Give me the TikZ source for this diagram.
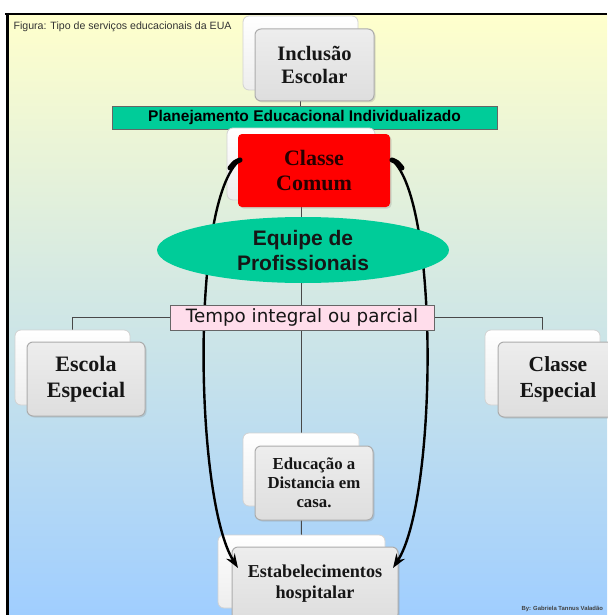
\documentclass[tikz,border=0pt]{standalone}
\usepackage{fontspec}
\setmainfont{Liberation Serif}
\newfontfamily\arialf{Liberation Sans}
\newfontfamily\tahomaf{DejaVu Sans}
\usetikzlibrary{calc,arrows.meta,shadows,shapes.geometric}
\pgfdeclarelayer{backdrop}
\pgfdeclarelayer{links}
\pgfsetlayers{backdrop,links,main}

\definecolor{skytop}{RGB}{255,255,204}
\definecolor{skybot}{RGB}{160,206,255}
\definecolor{mint}{RGB}{0,204,153}
\definecolor{blush}{RGB}{255,221,235}
\definecolor{linkgray}{RGB}{72,72,72}
\definecolor{inkdark}{RGB}{22,22,22}

\tikzset{
  backcard/.style={draw=gray!35, line width=0.8pt, rounded corners=6pt,
    top color=white, bottom color=gray!14, inner sep=0pt, outer sep=0pt},
  frontcard/.style={draw=gray!65, line width=1pt, rounded corners=6pt,
    top color=gray!14, bottom color=gray!26, inner sep=0pt, outer sep=0pt,
    align=center, text=inkdark,
    drop shadow={opacity=0.25, shadow xshift=1.5pt, shadow yshift=-1.5pt}},
  redcard/.style={fill=red, rounded corners=4pt, inner sep=0pt, outer sep=0pt,
    align=center, text=black!85!red,
    drop shadow={opacity=0.25, shadow xshift=1.5pt, shadow yshift=-1.5pt}},
  mintbar/.style={draw=black!60, line width=0.9pt, fill=mint, inner sep=0pt,
    outer sep=0pt, font=\arialf\bfseries\fontsize{15.5}{18}\selectfont},
  pinkbar/.style={draw=black!60, line width=0.9pt, fill=blush, inner sep=0pt,
    outer sep=0pt, text=inkdark, font=\tahomaf\fontsize{18.3}{20}\selectfont},
  link/.style={draw=linkgray, line width=1pt},
  bend arrow/.style={draw=black, line width=2.4pt,
    -{Stealth[length=14pt,width=10pt]}},
  arrow root/.style={draw=black, line width=5pt, line cap=round},
}

\begin{document}
\begin{tikzpicture}[x=1pt,y=-1pt]
  \useasboundingbox (0,0) rectangle (607,615);

  % page backdrop with its frame
  \begin{pgfonlayer}{backdrop}
    \fill[white] (0,0) rectangle (607,615);
    \shade[top color=skytop, bottom color=skybot] (8,14) rectangle (607,615);
    \draw[black, line width=2.6pt] (5,14) -- (607,14);
    \draw[black, line width=2.6pt] (7.5,13) -- (7.5,615);
  \end{pgfonlayer}

  \node[anchor=base west, font=\arialf\fontsize{10.6}{12}\selectfont,
        text=black!80] (caption) at (10,30)
        {Figura: Tipo de serviços educacionais da EUA};

  % Inclusão Escolar
  \node[backcard, minimum width=115pt, minimum height=74pt] (incb) at (300.5,53) {};
  \node[frontcard, minimum width=119pt, minimum height=72pt,
        font=\bfseries\fontsize{20.5}{23}\selectfont] (incf) at (314.5,65)
        {Inclusão\\Escolar};

  % Planejamento bar
  \node[mintbar, minimum width=385pt, minimum height=23pt] (plan) at (304.5,117.5)
        {Planejamento Educacional Individualizado};

  % Classe Comum
  \node[backcard, minimum width=148pt, minimum height=72pt] (redb) at (301,164) {};
  \node[redcard, minimum width=152pt, minimum height=73pt,
        font=\bfseries\fontsize{22}{25}\selectfont] (redf) at (314,170.5)
        {Classe\\Comum};

  % Escola Especial
  \node[backcard, minimum width=115pt, minimum height=75pt] (escb) at (72.5,367.5) {};
  \node[frontcard, minimum width=118pt, minimum height=74pt,
        font=\bfseries\fontsize{22}{26}\selectfont] (escf) at (86,379)
        {Escola\\Especial};

  % Classe Especial
  \node[backcard, minimum width=115pt, minimum height=75pt] (ceb) at (542.5,367.5) {};
  \node[frontcard, minimum width=120pt, minimum height=75pt,
        font=\bfseries\fontsize{21.5}{26}\selectfont] (cef) at (558,379.5)
        {Classe\\Especial};

  % Educação a Distancia em casa
  \node[backcard, minimum width=116pt, minimum height=73pt] (edub) at (301,469.5) {};
  \node[frontcard, minimum width=118pt, minimum height=74pt,
        font=\bfseries\fontsize{16.8}{19}\selectfont] (eduf) at (314,483)
        {Educação a\\Distancia em\\casa.};

  % Estabelecimentos hospitalar
  \node[backcard, minimum width=167pt, minimum height=73pt] (estb) at (301.5,571.5) {};
  \node[frontcard, minimum width=166pt, minimum height=73pt,
        font=\bfseries\fontsize{18.2}{21}\selectfont] (estf) at (315,583.5)
        {Estabelecimentos\\hospitalar};

  % curved arrows from Classe Comum to Estabelecimentos
  \coordinate (lstart) at ($(redf.north west)+(2,26)$);
  \coordinate (lend)   at ($(estf.north west)+(6,21)$);
  \coordinate (rstart) at ($(redf.north east)+(2,26)$);
  \coordinate (rend)   at ($(estf.north east)+(-5,21)$);
  \draw[bend arrow] (lstart) .. controls ($(lstart)+(-50,40)$) and ($(lend)+(-43,-68)$) .. (lend);
  \draw[bend arrow] (rstart) .. controls ($(rstart)+(48,41)$) and ($(rend)+(44,-68)$) .. (rend);
  \draw[arrow root] (lstart) .. controls ($(lstart)+(-5,2)$) .. ($(lstart)+(-10,8)$);
  \draw[arrow root] (rstart) .. controls ($(rstart)+(5,2)$) .. ($(rstart)+(10,8)$);

  % Equipe de Profissionais
  \node[ellipse, fill=mint, inner sep=0pt, outer sep=0pt,
        minimum width=292pt, minimum height=66pt, align=center, text=inkdark,
        font=\arialf\bfseries\fontsize{21}{25}\selectfont] (team) at (303,250)
        {Equipe de\\Profissionais};

  % Tempo integral ou parcial
  \node[pinkbar, minimum width=264pt, minimum height=25pt] (tempo) at (302,317.5)
        {Tempo integral ou parcial};

  \node[anchor=base west, font=\arialf\bfseries\fontsize{5.9}{7}\selectfont,
        text=black!75] (credit) at (518,610) {By: Gabriela Tannus Valadão};

  % tree connectors, kept under the cards
  \begin{pgfonlayer}{links}
    \draw[link] (incb.center) -- (incb.center |- plan.north);
    \draw[link] (redb.center) -- (redb.center |- team.center);
    \draw[link] (redb.center |- team.center) -- (redb.center |- tempo.north);
    \draw[link] (tempo.west) -| (escb.north);
    \draw[link] (tempo.east) -| (ceb.north);
    \draw[link] (edub.center |- tempo.south) -- (edub.north);
    \draw[link] (edub.center) -- (estb.north);
  \end{pgfonlayer}
\end{tikzpicture}
\end{document}
